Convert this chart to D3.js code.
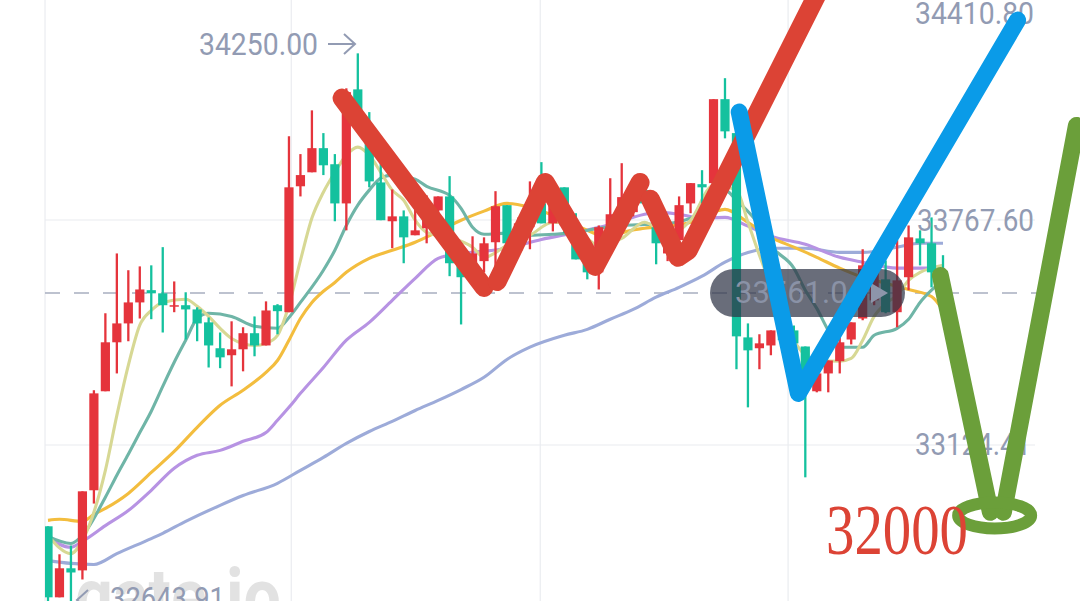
<!DOCTYPE html>
<html><head><meta charset="utf-8">
<style>html,body{margin:0;padding:0;background:#fff;overflow:hidden}svg{display:block}</style>
<script src="https://cdn.jsdelivr.net/npm/d3@7/dist/d3.min.js"></script>
</head><body><svg id="c" width="1080" height="601"></svg>
<script>
const opens=[32892,32689,32772,32766,32995,33278,33418,33472,33532,33567,33558,33521,33524,33512,33475,33401,33381,33398,33444,33409,33524,33504,33864,33904,33973,33927,33815,34141,34010,33875,33764,33778,33724,33744,33795,33835,33652,33632,33650,33704,33810,33681,33747,33815,33758,33861,33730,33672,33618,33718,33775,33790,33853,33747,33672,33710,33815,33870,33873,34113,34016,33432,33401,33409,33538,33452,33406,33278,33329,33364,33426,33486,33538,33598,33504,33604,33715,33701,33618];
const closes=[32689,32772,32760,32992,33272,33418,33472,33532,33569,33558,33524,33524,33512,33472,33409,33375,33398,33444,33409,33509,33507,33861,33896,33973,33924,33815,34133,34038,33878,33767,33778,33718,33738,33804,33835,33644,33604,33672,33701,33807,33701,33758,33815,33758,33861,33752,33655,33618,33747,33784,33833,33818,33815,33701,33718,33810,33873,33861,34113,34021,33435,33395,33415,33452,33424,33415,33338,33329,33366,33418,33475,33638,33624,33504,33595,33718,33701,33618,33595];
const highs=[32892,32812,32837,32992,33281,33501,33672,33624,33635,33638,33690,33592,33561,33518,33489,33446,33478,33461,33492,33535,33527,34007,33956,34081,34016,33956,34144,34244,34076,33930,33855,33795,33815,33838,33835,33893,33701,33721,33718,33850,33810,33775,33878,33933,33861,33861,33787,33710,33752,33887,33930,33833,33853,33767,33738,33835,33873,33910,34113,34173,34024,33472,33441,33452,33538,33466,33406,33329,33366,33432,33475,33684,33647,33652,33710,33752,33738,33775,33667];
const lows=[32677,32689,32677,32740,32957,33278,33329,33421,33486,33484,33446,33504,33426,33421,33346,33344,33292,33335,33378,33409,33441,33504,33835,33904,33896,33764,33738,34038,33861,33767,33687,33644,33724,33701,33775,33607,33469,33632,33618,33615,33701,33681,33684,33758,33735,33730,33655,33598,33569,33718,33775,33778,33815,33641,33650,33710,33787,33815,33873,34001,33341,33232,33341,33381,33424,33409,33032,33275,33275,33329,33412,33481,33524,33501,33461,33567,33638,33575,33567];

const priceTicks=[33124.41,33767.60,34410.80];
const priceTickLabels=["33124.41","33767.60","34410.80"];
const gridTimes=[-0.26,21.2,42.9,64.5];
const lastPrice=33558.9, lastPriceLabel="33561.04";
const highLabel="34250.00", lowLabel="32643.91", targetLabel="32000", brandLabel="gate.io";

const ma5Idx=[0,2,3,5,6,7,8,9,10,12,13,14,15,16,18,19,20,21,22,23,24,25,26,27,28,29,30,31,32,33,35,37,38,40,42,44,46,48,50,52,54,56,58,60,61,62,63,64,65,66,67,69,70,71,72,73,74,75,76,77,78];
const ma5=[32866,32814,32852,33052,33209,33352,33467,33509,33532,33541,33521,33492,33458,33429,33409,33415,33438,33524,33652,33773,33847,33904,33953,33976,33953,33904,33853,33824,33767,33732,33718,33690,33661,33695,33724,33761,33744,33695,33715,33761,33724,33767,33867,33853,33761,33667,33581,33495,33424,33381,33366,33364,33372,33424,33492,33529,33552,33595,33618,33630,33638];
const ma10Idx=[0,2,3,5,6,7,8,9,10,11,12,13,14,16,18,20,21,22,24,25,26,27,28,29,30,32,33,35,36,37,38,40,42,44,46,48,50,52,54,56,58,59,60,62,63,65,66,67,68,69,71,72,74,75,76,77,78];
const ma10=[32863,32843,32866,32975,33038,33098,33160,33221,33292,33361,33424,33486,33501,33492,33464,33458,33489,33532,33624,33681,33752,33810,33853,33887,33896,33884,33864,33838,33801,33747,33727,33730,33724,33727,33732,33744,33752,33755,33758,33773,33810,33853,33824,33752,33695,33630,33567,33515,33452,33404,33404,33438,33458,33484,33532,33567,33595];
const ma20Idx=[0,1,3,4,5,7,9,11,13,15,17,19,20,21,22,23,24,25,26,28,30,32,34,36,38,40,42,44,46,48,49,50,52,54,56,58,59,61,63,65,67,69,71,73,75,77,78];
const ma20=[32909,32912,32906,32926,32943,32986,33046,33106,33175,33238,33281,33332,33366,33424,33486,33532,33564,33589,33618,33658,33681,33704,33735,33767,33793,33815,33804,33781,33752,33724,33710,33730,33744,33750,33761,33790,33798,33761,33718,33690,33661,33630,33604,33587,33569,33549,33509];
const ma30Idx=[0,2,3,5,7,9,11,13,15,17,19,20,21,22,24,26,28,30,32,34,35,37,40,43,46,49,52,53,55,57,59,61,63,66,69,71,74,77];
const ma30=[32860,32832,32849,32894,32937,32995,33058,33095,33109,33135,33160,33195,33232,33272,33346,33424,33475,33538,33601,33658,33667,33675,33687,33712,33732,33755,33784,33790,33784,33773,33775,33750,33721,33698,33661,33647,33630,33630];
const ma60Idx=[0,2,4,6,9,10,12,15,17,20,22,24,26,28,30,32,34,36,38,40,42,45,47,49,51,53,55,57,59,61,63,66,69,71,74,76,78];
const ma60=[32794,32786,32783,32814,32857,32872,32906,32952,32980,33015,33052,33089,33129,33163,33192,33223,33252,33283,33318,33369,33404,33438,33455,33484,33512,33547,33575,33607,33647,33675,33687,33687,33675,33675,33690,33701,33701];

const redPenIdx=[[25.63,38.0],[39.15,43.33,47.69,51.6],[52.5,54.9,55.8,67.13]];
const redPenVal=[[34116,33575],[33592,33875,33635,33875],[33827,33661,33681,34419]];
const bluePenIdx=[60.24,65.39,84.5];
const bluePenVal=[34076,33272,34339];
const greenPenIdx=[[77.77,82.13],[83.26,89.63]];
const greenPenVal=[[33609,32932],[32932,34038]];
const ringIdx=82.5, ringVal=32923;

const svg=d3.select("#c");
const x=d3.scaleLinear().domain([0,78]).range([48,943]);
const y=d3.scaleLinear().domain([33124.41,33767.60]).range([445,220]);
const TXT="#929bb3", RED="#e5343c", GRN="#14c19e";

const defs=svg.append("defs");
defs.append("clipPath").attr("id","plot").append("rect").attr("x",45).attr("y",0).attr("width",1035).attr("height",601);

// grid
const g=svg.append("g").attr("stroke","#eaecf0").attr("stroke-width",1.2);
gridTimes.forEach(t=>g.append("line").attr("x1",x(t)).attr("x2",x(t)).attr("y1",0).attr("y2",601));
priceTicks.slice(0,2).forEach(p=>g.append("line").attr("x1",45).attr("x2",1035).attr("y1",y(p)).attr("y2",y(p)));

// watermark
svg.append("text").attr("x",75).attr("y",623).attr("font-family","Roboto").attr("font-weight",700)
  .attr("font-size",78).attr("fill","#e2e2e2").attr("textLength",206).attr("lengthAdjust","spacingAndGlyphs").text(brandLabel);

// last price dashed
svg.append("line").attr("x1",45).attr("x2",1040).attr("y1",y(lastPrice)).attr("y2",y(lastPrice))
  .attr("stroke","#a8aec0").attr("stroke-width",1.6).attr("stroke-dasharray","15 14");

const plot=svg.append("g").attr("clip-path","url(#plot)");
// moving averages
const line=d3.line().curve(d3.curveMonotoneX);
[[ma60Idx,ma60,"#9dabd9"],[ma30Idx,ma30,"#b793e3"],[ma20Idx,ma20,"#f3bd3e"],[ma10Idx,ma10,"#6fb5a7"],[ma5Idx,ma5,"#d7d894"]].forEach(([ix,v,c])=>{
  plot.append("path").attr("fill","none").attr("stroke",c).attr("stroke-width",3.1)
    .attr("d",line(ix.map((k,j)=>[x(k),y(v[j])])));
});
// candles
const cd=d3.range(opens.length).map(i=>({i,o:opens[i],c:closes[i],h:highs[i],l:lows[i]}));
const col=d=>d.c>d.o?RED:GRN;
plot.selectAll("line.w").data(cd).join("line").attr("class","w")
  .attr("x1",d=>x(d.i)).attr("x2",d=>x(d.i)).attr("y1",d=>y(d.h)).attr("y2",d=>y(d.l))
  .attr("stroke",col).attr("stroke-width",2.3);
plot.selectAll("rect.b").data(cd).join("rect").attr("class","b")
  .attr("x",d=>x(d.i)-4.6).attr("width",9.2)
  .attr("y",d=>y(Math.max(d.o,d.c))).attr("height",d=>Math.max(1.5,Math.abs(y(d.o)-y(d.c))))
  .attr("fill",col);

// labels
const lab=(s,x0,y0,w,fs)=>svg.append("text").attr("x",x0).attr("y",y0).attr("font-family","Roboto")
  .attr("font-size",fs||31).attr("dominant-baseline","central").attr("fill",TXT)
  .attr("textLength",w).attr("lengthAdjust","spacingAndGlyphs").text(s);
lab(priceTickLabels[0],915,y(priceTicks[0])-1,116);
lab(priceTickLabels[1],917,y(priceTicks[1]),117);
lab(priceTickLabels[2],915,Math.max(13,y(priceTicks[2])),119);
lab(highLabel,199,44,119);
lab(lowLabel,110,598,115);
svg.append("path").attr("d","M328 44H355M344 34L355 44L344 54").attr("fill","none").attr("stroke",TXT).attr("stroke-width",2);
svg.append("path").attr("d","M88 590L77 600L88 610").attr("fill","none").attr("stroke",TXT).attr("stroke-width",2);

// price pill
svg.append("rect").attr("x",710).attr("y",y(lastPrice)-24).attr("width",195).attr("height",48).attr("rx",24)
  .attr("fill","#2f3546").attr("fill-opacity",0.72);
svg.append("text").attr("x",735).attr("y",y(lastPrice)-1).attr("font-family","Roboto").attr("font-size",31)
  .attr("dominant-baseline","central").attr("fill","#8a92a6").attr("textLength",130).attr("lengthAdjust","spacingAndGlyphs").text(lastPriceLabel);
svg.append("path").attr("d","M871 283L888 293L871 303Z").attr("fill","#8d95aa");

// pen strokes
const pen=(ix,v,c,w)=>svg.append("path").attr("fill","none").attr("stroke",c).attr("stroke-width",w)
  .attr("stroke-linecap","round").attr("stroke-linejoin","round")
  .attr("d",d3.line()(ix.map((k,j)=>[x(k),y(v[j])])));
redPenIdx.forEach((ix,j)=>pen(ix,redPenVal[j],"#dc4335",19));
pen(bluePenIdx,bluePenVal,"#0a9be8",17);
greenPenIdx.forEach((ix,j)=>pen(ix,greenPenVal[j],"#6b9f3a",17));
svg.append("ellipse").attr("cx",x(ringIdx)).attr("cy",y(ringVal)).attr("rx",36.5).attr("ry",13)
  .attr("fill","none").attr("stroke","#6b9f3a").attr("stroke-width",12);
svg.append("text").attr("x",826).attr("y",554).attr("font-family","Liberation Serif").attr("font-size",71)
  .attr("fill","#dc4335").attr("textLength",142).attr("lengthAdjust","spacingAndGlyphs").text(targetLabel);
</script></body></html>
